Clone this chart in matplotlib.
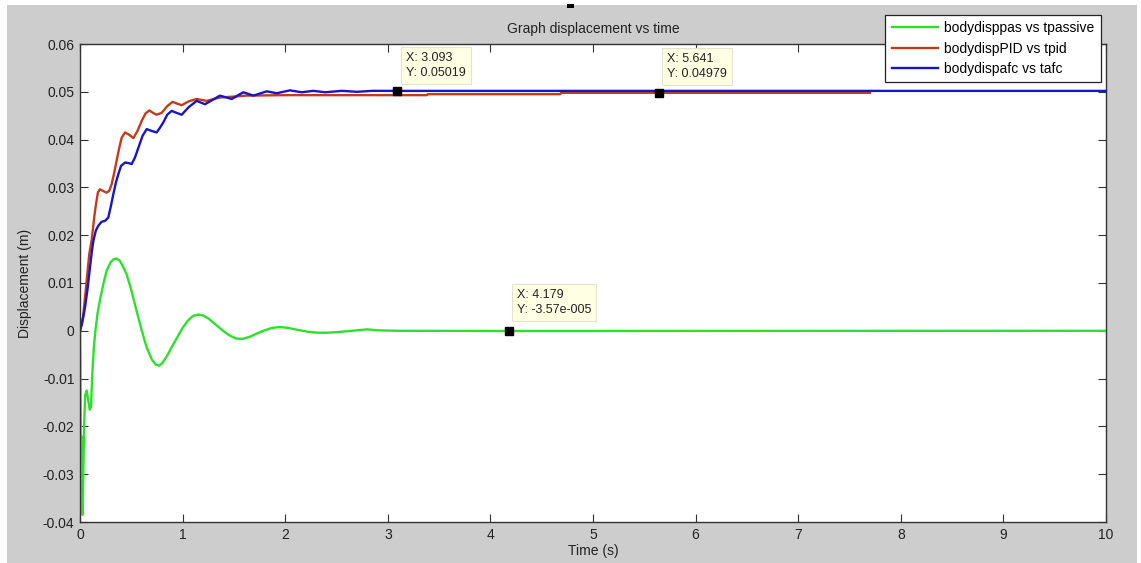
import matplotlib
matplotlib.use('Agg')
import matplotlib.pyplot as plt
from matplotlib.patches import Rectangle
from matplotlib.ticker import FuncFormatter

plt.rcParams['font.family'] = ['Liberation Sans', 'DejaVu Sans']

# passive suspension body displacement
tpassive = [0, 0.004, 0.008, 0.012, 0.018, 0.026, 0.032, 0.04, 0.05, 0.065, 0.08, 0.095,
            0.107, 0.12, 0.135, 0.15, 0.17, 0.195, 0.23, 0.26, 0.30, 0.33, 0.36, 0.39,
            0.42, 0.455, 0.50, 0.55, 0.60, 0.65, 0.70, 0.74, 0.77, 0.80, 0.85, 0.90,
            0.95, 1.00, 1.05, 1.10, 1.15, 1.20, 1.25, 1.30, 1.35, 1.40, 1.46, 1.52,
            1.58, 1.65, 1.72, 1.80, 1.87, 1.95, 2.03, 2.12, 2.22, 2.32, 2.42, 2.55,
            2.70, 2.80, 2.90, 3.10, 4.179, 10]
bodydisppas = [0, -0.008, -0.030, -0.022, -0.034, -0.0385, -0.030, -0.020, -0.0135, -0.0125,
               -0.0145, -0.0165, -0.0160, -0.009, -0.0035, 0.0, 0.0035, 0.0065, 0.0100,
               0.0126, 0.0144, 0.0150, 0.0151, 0.0146, 0.0134, 0.0118, 0.0085, 0.0043,
               0.0002, -0.0035, -0.0060, -0.0071, -0.0073, -0.0068, -0.0052, -0.0032,
               -0.0013, 0.0006, 0.0021, 0.0031, 0.0034, 0.0032, 0.0026, 0.0017, 0.0008,
               -0.0001, -0.0010, -0.0016, -0.0017, -0.0013, -0.0006, 0.0001, 0.0006,
               0.0008, 0.0006, 0.0002, -0.0002, -0.0004, -0.0004, -0.0002, 0.0001,
               0.0003, 0.0001, 0.0, -3.57e-05, 0]

# PID controller
tpid = [0, 0.03, 0.065, 0.09, 0.114, 0.14, 0.156, 0.175, 0.195, 0.23, 0.26, 0.285, 0.309,
        0.335, 0.357, 0.38, 0.406, 0.439, 0.48, 0.52, 0.56, 0.601, 0.64, 0.676, 0.71,
        0.747, 0.796, 0.85, 0.903, 0.95, 0.991, 1.06, 1.137, 1.235, 1.36, 1.50, 1.62,
        2.0, 3.38, 3.39, 4.68, 4.69, 5.641, 7.70]
bodydispPID = [0, 0.003, 0.0105, 0.0160, 0.0190, 0.0240, 0.0265, 0.0290, 0.0296, 0.0292,
               0.0289, 0.0293, 0.0307, 0.0332, 0.0356, 0.0380, 0.0404, 0.0415, 0.0410,
               0.0403, 0.0418, 0.0439, 0.0455, 0.0461, 0.0456, 0.0452, 0.0456, 0.0470,
               0.0479, 0.0475, 0.0472, 0.0480, 0.0485, 0.0481, 0.0488, 0.0490, 0.0492,
               0.0493, 0.0493, 0.0495, 0.0495, 0.04979, 0.04979, 0.04979]

# active force control
tafc = [0, 0.02, 0.049, 0.075, 0.097, 0.115, 0.13, 0.155, 0.179, 0.21, 0.244, 0.276, 0.30,
        0.325, 0.35, 0.374, 0.40, 0.439, 0.47, 0.504, 0.535, 0.569, 0.61, 0.65, 0.70,
        0.747, 0.78, 0.812, 0.85, 0.893, 0.94, 0.991, 1.06, 1.137, 1.218, 1.30, 1.364,
        1.478, 1.592, 1.69, 1.82, 1.917, 2.047, 2.16, 2.274, 2.39, 2.55, 2.70, 2.85,
        3.093, 10]
bodydispafc = [0, 0.0015, 0.0049, 0.0090, 0.0132, 0.0165, 0.0188, 0.0210, 0.0220, 0.0228,
               0.0230, 0.0237, 0.0260, 0.0286, 0.0310, 0.0328, 0.0345, 0.0352, 0.0351,
               0.0349, 0.0362, 0.0383, 0.0408, 0.0422, 0.0418, 0.0415, 0.0425, 0.0436,
               0.0452, 0.0460, 0.0456, 0.0452, 0.0468, 0.0481, 0.0474, 0.0484, 0.0492,
               0.0485, 0.0499, 0.0492, 0.0501, 0.0497, 0.0503, 0.0499, 0.0502, 0.0499,
               0.0502, 0.0500, 0.0502, 0.05019, 0.05019]

# data cursors (x, y)
tips = [(3.093, 0.05019, '3.093', '0.05019'),
        (5.641, 0.04979, '5.641', '0.04979'),
        (4.179, -3.57e-05, '4.179', '-3.57e-005')]
tip_offsets = [(9, 39), (8, 40), (8, 42)]

xticks = list(range(0, 11))
yticks = [-0.04, -0.03, -0.02, -0.01, 0, 0.01, 0.02, 0.03, 0.04, 0.05, 0.06]

fig = plt.figure(figsize=(11.41, 5.63), dpi=100, facecolor='white')
fig.patches.append(Rectangle((7 / 1141, 0), 1130 / 1141, 558 / 563, transform=fig.transFigure,
                             facecolor='#cdcdcd', edgecolor='none', zorder=-10))
fig.patches.append(Rectangle((567 / 1141, 1 - 8 / 563), 7 / 1141, 4 / 563,
                             transform=fig.transFigure, facecolor='black', edgecolor='none'))

ax = fig.add_axes([80 / 1141, 1 - 522 / 563, 1026 / 1141, 478 / 563])
ax.set_facecolor('white')

ax.plot(tpassive, bodydisppas, color='#2ee02e', lw=1.7, label='bodydisppas vs tpassive')
ax.plot(tpid, bodydispPID, color='#c23c1c', lw=1.7, label='bodydispPID vs tpid')
ax.plot(tafc, bodydispafc, color='#1616c8', lw=1.7, label='bodydispafc vs tafc')

for (tx, ty, sx, sy), off in zip(tips, tip_offsets):
    ax.plot(tx, ty, 's', color='black', ms=6, zorder=5)
    ax.annotate('X: %s\nY: %s' % (sx, sy), xy=(tx, ty), xytext=off,
                textcoords='offset pixels', ha='left', va='top', fontsize=9,
                color='#222222', linespacing=1.35, zorder=6,
                bbox=dict(boxstyle='square,pad=0.4', facecolor='#ffffe4',
                          edgecolor='#e4e4cc', lw=0.8))

ax.set_xlim(0, 10)
ax.set_ylim(-0.04, 0.06)
ax.set_xticks(xticks)
ax.set_yticks(yticks)
ax.yaxis.set_major_formatter(FuncFormatter(lambda v, p: '%g' % round(v, 4)))
ax.tick_params(direction='in', length=6, top=True, right=True, labelsize=10,
               color='#333333', labelcolor='#222222', pad=4)
for sp in ax.spines.values():
    sp.set_color('#333333')
    sp.set_linewidth(1.0)

ax.set_title('Graph displacement vs time', fontsize=10, color='#222222', pad=8)
ax.set_xlabel('Time (s)', fontsize=10, color='#222222', labelpad=2)
ax.set_ylabel('Displacement (m)', fontsize=10, color='#222222', labelpad=8)

leg = ax.legend(loc='upper right', bbox_to_anchor=(1101 / 1141, 1 - 15 / 563),
                bbox_transform=fig.transFigure, borderaxespad=0, fontsize=10,
                fancybox=False, framealpha=1, edgecolor='#222222', handlelength=3.3,
                labelspacing=0.45, borderpad=0.45, handletextpad=0.5)
leg.get_frame().set_linewidth(0.9)

fig.savefig('out.png', dpi=100, facecolor=fig.get_facecolor())
